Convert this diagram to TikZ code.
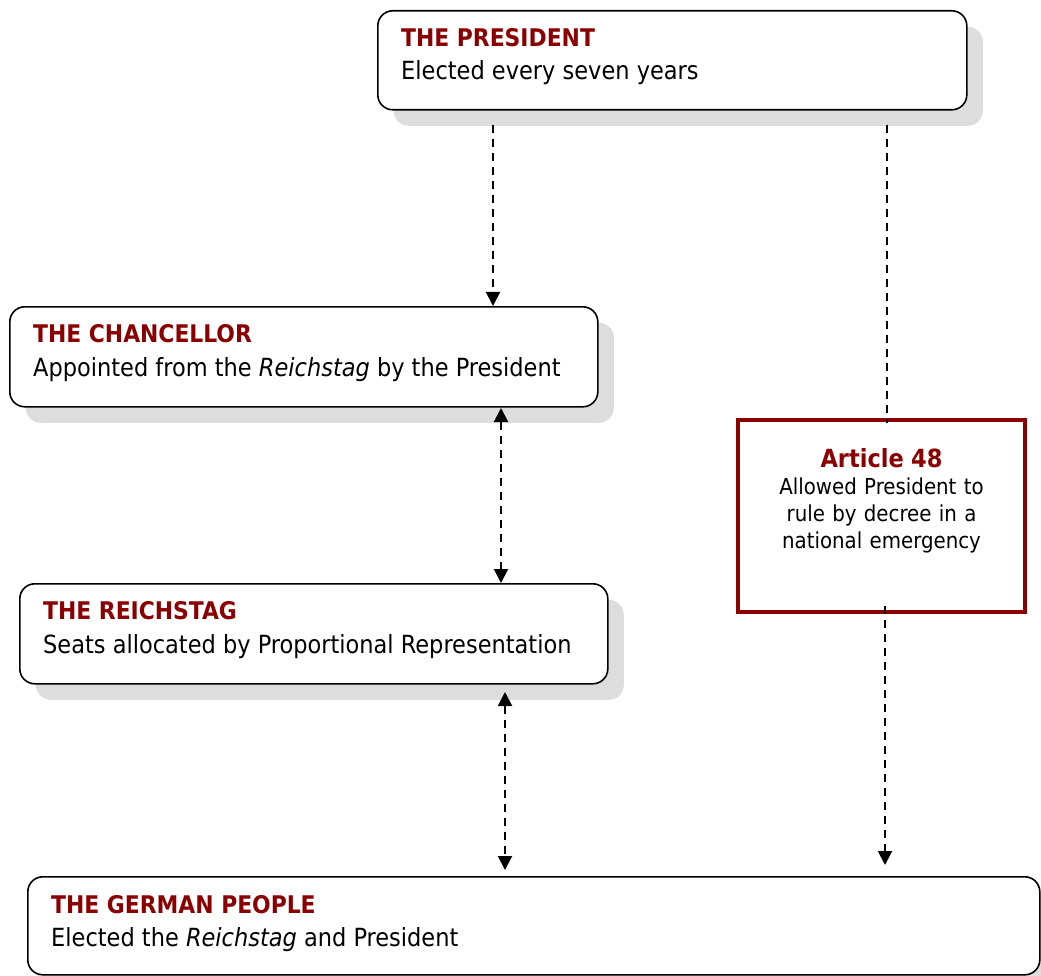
\documentclass[tikz,border=0pt]{standalone}
\usepackage{fontspec}
\setmainfont{DejaVu Sans Condensed}
\usepackage{tikz}
\usetikzlibrary{shapes, arrows.meta, positioning, shadows}

\definecolor{headred}{HTML}{8B0000}
\definecolor{shadowgrey}{HTML}{DDDDDD}

\tikzset{
  govbox/.style={draw, rounded corners=15pt, line width=1.6pt, fill=white,
    anchor=north west, inner sep=0pt,
    drop shadow={shadow xshift=16pt, shadow yshift=-16pt, fill=shadowgrey, opacity=1}},
  lawbox/.style={draw=headred, line width=4pt, fill=white, anchor=north west, inner sep=0pt},
  head/.style={anchor=base west, inner sep=0pt, text=headred,
    font=\bfseries\fontsize{24.3}{28}\selectfont},
  body/.style={anchor=base west, inner sep=0pt, font=\fontsize{25}{28}\selectfont},
  link/.style={dash pattern=on 8pt off 6pt, line width=2pt}
}

\begin{document}
\begin{tikzpicture}[x=1pt, y=-1pt, >={Triangle[width=14pt,length=14pt]}]
\useasboundingbox (0,0) rectangle (1041,976);

% the boxes
\node [govbox, minimum width=589pt, minimum height=99pt] (pres) at (377,10) {};
\node [head] (presHead) at ([shift={(24,37)}]pres.north west) {THE PRESIDENT};
\node [body] (presText) at ([shift={(24,70)}]pres.north west) {Elected every seven years};

\node [govbox, minimum width=588pt, minimum height=100pt] (chan) at (9,306) {};
\node [head] (chanHead) at ([shift={(24,36)}]chan.north west) {THE CHANCELLOR};
\node [body] (chanText) at ([shift={(24,70)}]chan.north west) {Appointed from the \textit{Reichstag} by the President};

\node [govbox, minimum width=588pt, minimum height=100pt] (reich) at (19,583) {};
\node [head] (reichHead) at ([shift={(24,36)}]reich.north west) {THE REICHSTAG};
\node [body] (reichText) at ([shift={(24,70)}]reich.north west) {Seats allocated by Proportional Representation};

\node [govbox, minimum width=1012pt, minimum height=98pt] (people) at (27,876) {};
\node [head] (peopleHead) at ([shift={(24,37)}]people.north west) {THE GERMAN PEOPLE};
\node [body] (peopleText) at ([shift={(24,70)}]people.north west) {Elected the \textit{Reichstag} and President};

\node [lawbox, minimum width=287pt, minimum height=192pt] (art) at (736,418) {};
\node [anchor=north, text width=270pt, align=center, inner sep=0pt,
  font=\fontsize{22}{27}\selectfont] (artText) at ([yshift=-30pt]art.north)
  {{\bfseries\color{headred}\fontsize{25}{27}\selectfont Article 48}\\
   Allowed President to\\ rule by decree in a\\ national emergency};

% the links
\coordinate (presFootL) at (493,125);
\draw [link, ->] (presFootL) -- (presFootL |- chan.north);

\coordinate (chanFoot) at (501,408);
\draw [link, <->] (chanFoot) -- (chanFoot |- reich.north);

\coordinate (reichFoot) at (505,692);
\draw [link, <->] (reichFoot) -- ([yshift=6pt]reichFoot |- people.north);

\coordinate (presFootR) at (887,125);
\draw [link] (presFootR) -- ([yshift=-5pt]presFootR |- art.north);

\coordinate (artFoot) at (885,606);
\draw [link, ->] (artFoot) -- ([yshift=11pt]artFoot |- people.north);

\end{tikzpicture}
\end{document}
